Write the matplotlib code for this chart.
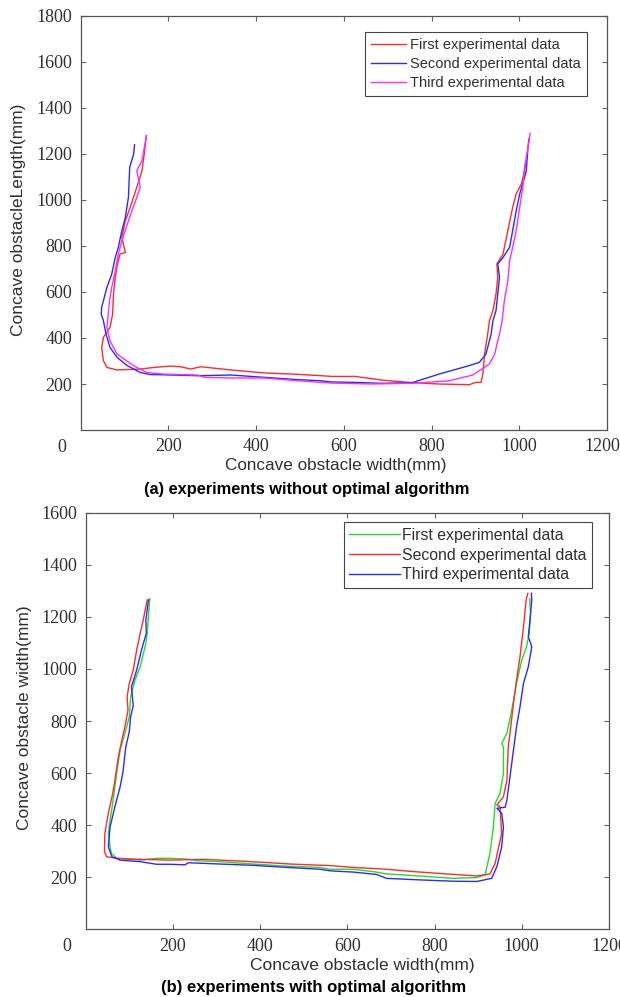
import matplotlib
matplotlib.use("Agg")
import matplotlib.pyplot as plt
import matplotlib.transforms as mtransforms

# (a) without optimal algorithm
a_first_x = [150, 145, 140, 128, 113, 102, 94, 102, 90, 84, 79, 75, 73, 67, 52, 48, 52, 60, 83, 136, 167, 205, 228,
             251, 274, 343, 419, 496, 549, 572, 626, 687, 748, 817, 886, 901, 913, 917, 921, 928, 932, 940, 947, 951,
             949, 963, 974, 985, 993, 1005, 1012, 1014]
a_first_y = [1280, 1200, 1127, 1055, 968, 910, 837, 772, 765, 722, 664, 591, 504, 446, 403, 359, 301, 272, 261, 265,
             272, 278, 275, 265, 275, 261, 248, 242, 236, 233, 233, 217, 207, 200, 197, 207, 207, 243, 330, 417, 475,
             519, 591, 664, 722, 765, 867, 968, 1026, 1070, 1127, 1155]

a_second_x = [123, 121, 112, 109, 102, 94, 86, 79, 71, 60, 48, 47, 52, 58, 67, 83, 106, 136, 159, 190, 266, 343, 419,
              496, 549, 572, 626, 687, 756, 817, 886, 909, 924, 936, 940, 947, 951, 955, 951, 963, 978, 985, 993,
              1001, 1012, 1016, 1020, 1022]
a_second_y = [1240, 1200, 1142, 1011, 924, 866, 794, 750, 678, 620, 533, 504, 475, 417, 359, 316, 280, 250, 241, 240,
              236, 239, 229, 219, 214, 209, 207, 203, 206, 243, 280, 294, 330, 417, 475, 519, 591, 664, 722, 750, 794,
              867, 953, 1026, 1098, 1127, 1229, 1265]

a_third_x = [150, 140, 128, 136, 128, 117, 104, 94, 86, 79, 71, 66, 63, 60, 67, 83, 113, 128, 151, 190, 266, 282, 343,
             419, 496, 549, 572, 664, 756, 840, 894, 932, 944, 951, 955, 961, 966, 974, 978, 985, 993, 1001, 1008,
             1012, 1020, 1025]
a_third_y = [1280, 1171, 1127, 1055, 1011, 953, 881, 823, 765, 693, 620, 562, 504, 446, 388, 330, 290, 272, 250, 243,
             239, 229, 226, 226, 214, 207, 204, 200, 203, 214, 239, 287, 330, 388, 417, 475, 562, 649, 736, 794, 867,
             968, 1055, 1142, 1229, 1290]

# (b) with optimal algorithm
b_first_x = [147, 141, 138, 125, 113, 103, 100, 90, 79, 71, 63, 56, 52, 56, 59, 71, 125, 163, 193, 232, 254, 308, 384,
             461, 537, 560, 614, 667, 690, 767, 843, 897, 916, 927, 935, 939, 950, 958, 958, 954, 966, 977, 988, 1000,
             1011, 1017, 1020, 1018]
b_first_y = [1270, 1137, 1098, 1008, 957, 893, 816, 753, 689, 599, 497, 420, 369, 317, 292, 273, 266, 273, 273, 270,
             264, 260, 251, 243, 238, 231, 231, 220, 213, 205, 196, 199, 209, 292, 394, 484, 522, 599, 701, 714, 753,
             842, 945, 1034, 1085, 1137, 1214, 1270]

b_second_x = [141, 132, 125, 117, 109, 100, 95, 97, 90, 83, 75, 67, 62, 52, 44, 43, 48, 71, 125, 193, 270, 346, 423,
              469, 560, 614, 690, 751, 828, 897, 927, 939, 954, 952, 950, 943, 958, 966, 969, 973, 981, 988, 996,
              1004, 1010, 1014]
b_second_y = [1265, 1188, 1137, 1073, 996, 945, 893, 842, 778, 727, 663, 573, 522, 446, 369, 298, 279, 273, 269, 266,
              269, 263, 256, 251, 245, 238, 231, 222, 213, 205, 213, 254, 369, 420, 471, 478, 509, 573, 701, 753, 868,
              957, 1047, 1162, 1265, 1290]

b_third_x = [144, 138, 139, 128, 117, 105, 109, 103, 100, 92, 85, 79, 67, 56, 52, 60, 79, 125, 163, 193, 228, 235, 308,
             384, 461, 537, 560, 614, 667, 690, 767, 843, 897, 931, 943, 954, 958, 954, 943, 962, 966, 973, 981, 988,
             996, 1004, 1015, 1023, 1015, 1019, 1023, 1022]
b_third_y = [1265, 1188, 1137, 1073, 996, 932, 858, 816, 759, 701, 599, 548, 471, 394, 317, 279, 266, 260, 250, 250,
             248, 256, 251, 246, 238, 231, 225, 220, 211, 196, 190, 185, 184, 196, 241, 317, 394, 446, 465, 469, 497,
             586, 689, 778, 855, 945, 1008, 1085, 1124, 1188, 1265, 1290]

legend_labels = ["First experimental data", "Second experimental data", "Third experimental data"]
x_ticks = [200, 400, 600, 800, 1000, 1200]
a_y_ticks = [200, 400, 600, 800, 1000, 1200, 1400, 1600, 1800]
b_y_ticks = [200, 400, 600, 800, 1000, 1200, 1400, 1600]

serif = "Liberation Serif"
sans = "Liberation Sans"
txt_col = "#303030"
tick_fs = 13

fig = plt.figure(figsize=(6.2, 9.97), dpi=100)


def style_axes(ax, ymax, yticks):
    ax.set_xlim(0, 1200)
    ax.set_ylim(0, ymax)
    ax.set_xticks(x_ticks)
    ax.set_yticks(yticks)
    ax.tick_params(direction="in", top=True, right=True, length=3.5, width=0.8,
                   color="#666666", labelcolor=txt_col, pad=6)
    for lab in ax.get_xticklabels() + ax.get_yticklabels():
        lab.set_fontfamily(serif)
        lab.set_fontsize(tick_fs)
    for sp in ax.spines.values():
        sp.set_color("#555555")
        sp.set_linewidth(0.9)
    # lone "0" at the corner, as in the original figure
    ax.annotate("0", xy=(0, 0), xycoords="axes fraction", xytext=(-19, -9),
                textcoords="offset pixels", ha="center", va="top",
                fontfamily=serif, fontsize=tick_fs, color=txt_col)


# ---- (a) ----
ax1 = fig.add_axes([0.130, 0.5687, 0.849, 0.4153])
ax1.plot(a_first_x, a_first_y, color="#ff2a2a", lw=1.0, label=legend_labels[0])
ax1.plot(a_second_x, a_second_y, color="#2a2aff", lw=1.0, label=legend_labels[1])
ax1.plot(a_third_x, a_third_y, color="#ff2aff", lw=1.0, label=legend_labels[2])
style_axes(ax1, 1800, a_y_ticks)
# last x label of (a) sits fully inside the picture in the original
last = ax1.get_xticklabels()[-1]
last.set_transform(last.get_transform() + mtransforms.ScaledTranslation(-5 / 100, 0, fig.dpi_scale_trans))

leg1 = ax1.legend(loc="upper right", bbox_to_anchor=(0.975, 0.979), fancybox=False,
                  edgecolor="#444444", framealpha=1, handlelength=2.4, handletextpad=0.3,
                  borderpad=0.4, labelspacing=0.35, prop={"family": sans, "size": 10.5})
leg1.get_frame().set_linewidth(0.8)
for t in leg1.get_texts():
    t.set_color(txt_col)

fig.text(0.541, 1 - 465 / 997, "Concave obstacle width(mm)", ha="center", va="center",
         fontfamily=sans, fontsize=12.3, color=txt_col)
fig.text(0.030, 1 - 220 / 997, "Concave obstacleLength(mm)", ha="center", va="center",
         rotation=90, fontfamily=sans, fontsize=12.5, color=txt_col)
fig.text(0.494, 1 - 489 / 997, "(a) experiments without optimal algorithm", ha="center",
         va="center", fontfamily=sans, fontsize=11.8, fontweight="bold", color="black")

# ---- (b) ----
ax2 = fig.add_axes([0.1382, 0.0678, 0.844, 0.418])
ax2.plot(b_first_x, b_first_y, color="#22dd22", lw=1.0, label=legend_labels[0])
ax2.plot(b_second_x, b_second_y, color="#ff2a2a", lw=1.0, label=legend_labels[1])
ax2.plot(b_third_x, b_third_y, color="#2a2aff", lw=1.0, label=legend_labels[2])
style_axes(ax2, 1600, b_y_ticks)
leg2 = ax2.legend(loc="upper right", bbox_to_anchor=(0.983, 0.996), fancybox=False,
                  edgecolor="#444444", framealpha=1, handlelength=3.2, handletextpad=0.15,
                  borderpad=0.35, labelspacing=0.3, prop={"family": sans, "size": 11.4})
leg2.get_frame().set_linewidth(0.8)
for t in leg2.get_texts():
    t.set_color(txt_col)

fig.text(0.584, 1 - 965 / 997, "Concave obstacle width(mm)", ha="center", va="center",
         fontfamily=sans, fontsize=12.5, color=txt_col)
fig.text(0.039, 1 - 718 / 997, "Concave obstacle width(mm)", ha="center", va="center",
         rotation=90, fontfamily=sans, fontsize=12.5, color=txt_col)
fig.text(0.505, 1 - 987 / 997, "(b) experiments with optimal algorithm", ha="center",
         va="center", fontfamily=sans, fontsize=12, fontweight="bold", color="black")

fig.savefig("out.png", dpi=100)
